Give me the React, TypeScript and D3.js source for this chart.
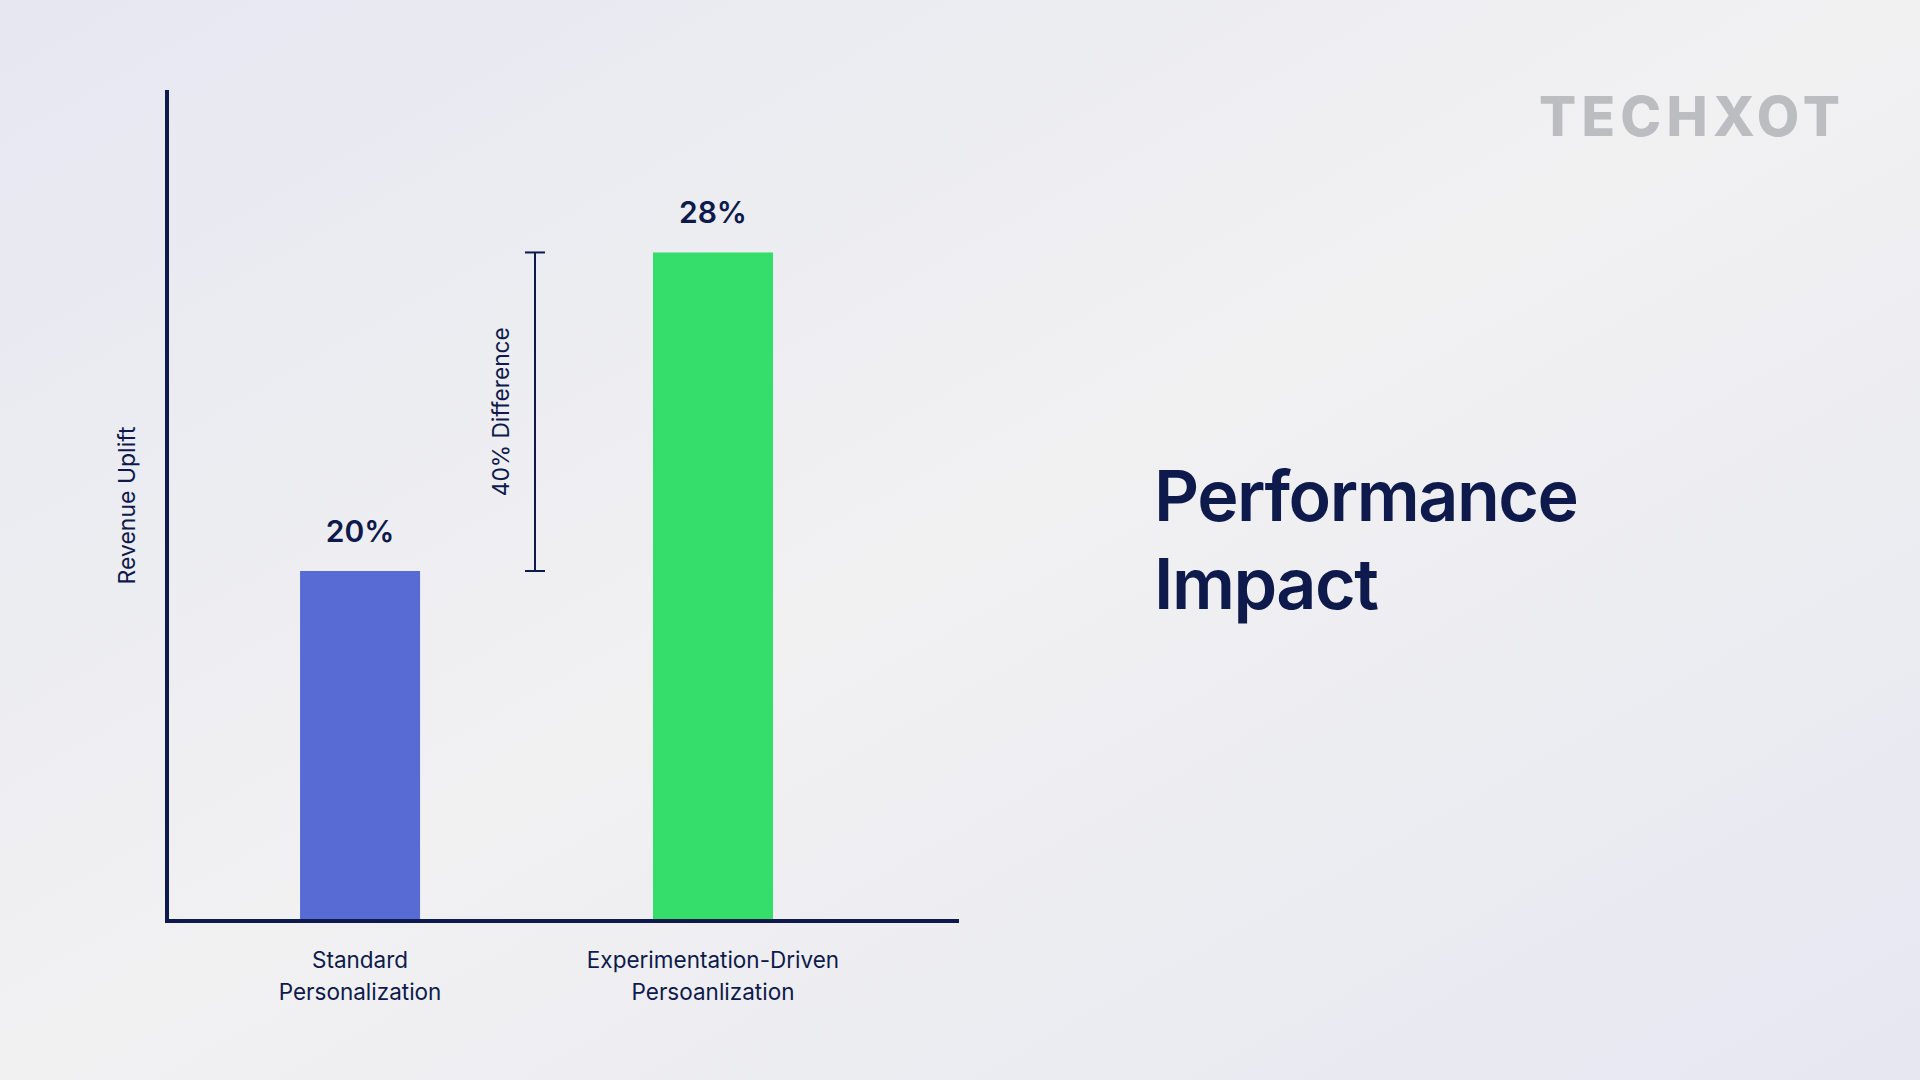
import React, { useEffect, useRef } from 'react';
import * as d3 from 'd3';

// ---------- data ----------
const categories = ['Standard Personalization', 'Experimentation-Driven Persoanlization'];
const categoryLines = [['Standard', 'Personalization'], ['Experimentation-Driven', 'Persoanlization']];
const values = [20, 28];
const valueLabels = ['20%', '28%'];
const barColors = ['#586bd4', '#35dd6b'];
const differenceLabel = '40% Difference';
const yAxisLabel = 'Revenue Uplift';
const titleLines = ['Performance', 'Impact'];
const logoText = 'TECHXOT';
// the axis is not zero-based in the original slide
const yDomain = [11.26, 32.08];

export default function App() {
  const ref = useRef<SVGSVGElement>(null);
  const width = 1920;
  const height = 1080;
  const margin = { Top: 90, Right: 961, Bottom: 159, Left: 167 };
  const navy = '#0e1a4b';
  const font = 'Inter, "Noto Sans", sans-serif';

  useEffect(() => {
    document.body.style.margin = '0';
    const svg = d3.select(ref.current);
    svg.selectAll('*').remove();

    // ------------ background ------------
    const defs = svg.append('defs');
    const grad = defs.append('linearGradient')
      .attr('id', 'bg')
      .attr('x1', 0).attr('y1', 0)
      .attr('x2', 1).attr('y2', 1);
    grad.append('stop').attr('offset', '0%').attr('stop-color', '#e6e7f1');
    grad.append('stop').attr('offset', '50%').attr('stop-color', '#f1f1f2');
    grad.append('stop').attr('offset', '100%').attr('stop-color', '#e6e7f1');
    svg.append('rect')
      .attr('width', width).attr('height', height)
      .attr('fill', 'url(#bg)');

    // ------------ scales ------------
    const xLeft = margin.Left;
    const xRight = width - margin.Right;
    const yBottom = height - margin.Bottom;

    const xScale = d3.scaleBand()
      .domain(categories)
      .range([xLeft, xRight])
      .paddingInner(0.66)
      .paddingOuter(0.452)
      .align(0.417);

    const yScale = d3.scaleLinear()
      .domain(yDomain)
      .range([yBottom - 2, margin.Top]);

    // ------------ bars ------------
    svg.append('g')
      .selectAll('rect')
      .data(values)
      .join('rect')
      .attr('x', (d, i) => xScale(categories[i])!)
      .attr('y', (d) => yScale(d))
      .attr('width', xScale.bandwidth())
      .attr('height', (d) => yScale(yDomain[0]) - yScale(d))
      .attr('fill', (d, i) => barColors[i]);

    // value labels
    svg.append('g')
      .selectAll('text')
      .data(values)
      .join('text')
      .attr('x', (d, i) => xScale(categories[i])! + xScale.bandwidth() / 2)
      .attr('y', (d) => yScale(d) - 29)
      .attr('text-anchor', 'middle')
      .attr('font-family', font)
      .attr('font-size', 30)
      .attr('font-weight', 600)
      .attr('fill', navy)
      .text((d, i) => valueLabels[i]);

    // ------------ axes ------------
    svg.append('line')
      .attr('x1', xLeft).attr('x2', xLeft)
      .attr('y1', margin.Top).attr('y2', yBottom + 2)
      .attr('stroke', navy).attr('stroke-width', 4);
    svg.append('line')
      .attr('x1', xLeft - 2).attr('x2', xRight)
      .attr('y1', yBottom).attr('y2', yBottom)
      .attr('stroke', navy).attr('stroke-width', 4);

    // category labels
    const catText = svg.append('g')
      .selectAll('text')
      .data(categories)
      .join('text')
      .attr('x', (d) => xScale(d)! + xScale.bandwidth() / 2)
      .attr('y', yBottom + 47)
      .attr('text-anchor', 'middle')
      .attr('font-family', font)
      .attr('font-size', 22.5)
      .attr('fill', navy);
    catText.each(function (d, i) {
      const t = d3.select(this);
      categoryLines[i].forEach((line, j) => {
        t.append('tspan')
          .attr('x', xScale(d)! + xScale.bandwidth() / 2)
          .attr('dy', j === 0 ? 0 : 32)
          .text(line);
      });
    });

    // y axis title
    svg.append('text')
      .attr('transform', `translate(135,${(margin.Top + yBottom) / 2}) rotate(-90)`)
      .attr('text-anchor', 'middle')
      .attr('font-family', font)
      .attr('font-size', 23)
      .attr('fill', navy)
      .text(yAxisLabel);

    // ------------ difference bracket ------------
    const bx = 535;
    const yTop = yScale(values[1]);
    const yLow = yScale(values[0]);
    const bracket = svg.append('g')
      .attr('stroke', navy)
      .attr('stroke-width', 2);
    bracket.append('line').attr('x1', bx).attr('x2', bx).attr('y1', yTop).attr('y2', yLow);
    bracket.append('line').attr('x1', bx - 10).attr('x2', bx + 10).attr('y1', yTop).attr('y2', yTop);
    bracket.append('line').attr('x1', bx - 10).attr('x2', bx + 10).attr('y1', yLow).attr('y2', yLow);

    svg.append('text')
      .attr('transform', `translate(509,${(yTop + yLow) / 2}) rotate(-90)`)
      .attr('text-anchor', 'middle')
      .attr('font-family', font)
      .attr('font-size', 22.7)
      .attr('fill', navy)
      .text(differenceLabel);

    // ------------ title ------------
    const title = svg.append('text')
      .attr('x', 1154)
      .attr('y', 521)
      .attr('font-family', font)
      .attr('font-size', 70)
      .attr('font-weight', 600)
      .attr('letter-spacing', -1.5)
      .attr('fill', navy);
    titleLines.forEach((line, i) => {
      title.append('tspan')
        .attr('x', 1154)
        .attr('dy', i === 0 ? 0 : 88)
        .text(line);
    });

    // ------------ logo ------------
    svg.append('text')
      .attr('x', 1539)
      .attr('y', 136)
      .attr('font-family', font)
      .attr('font-size', 55)
      .attr('font-weight', 800)
      .attr('fill', '#bcbdc1')
      .attr('textLength', 301)
      .attr('lengthAdjust', 'spacing')
      .text(logoText);
  }, []);

  return (
    <svg ref={ref} width={width} height={height} style={{ display: 'block' }} />
  );
}
